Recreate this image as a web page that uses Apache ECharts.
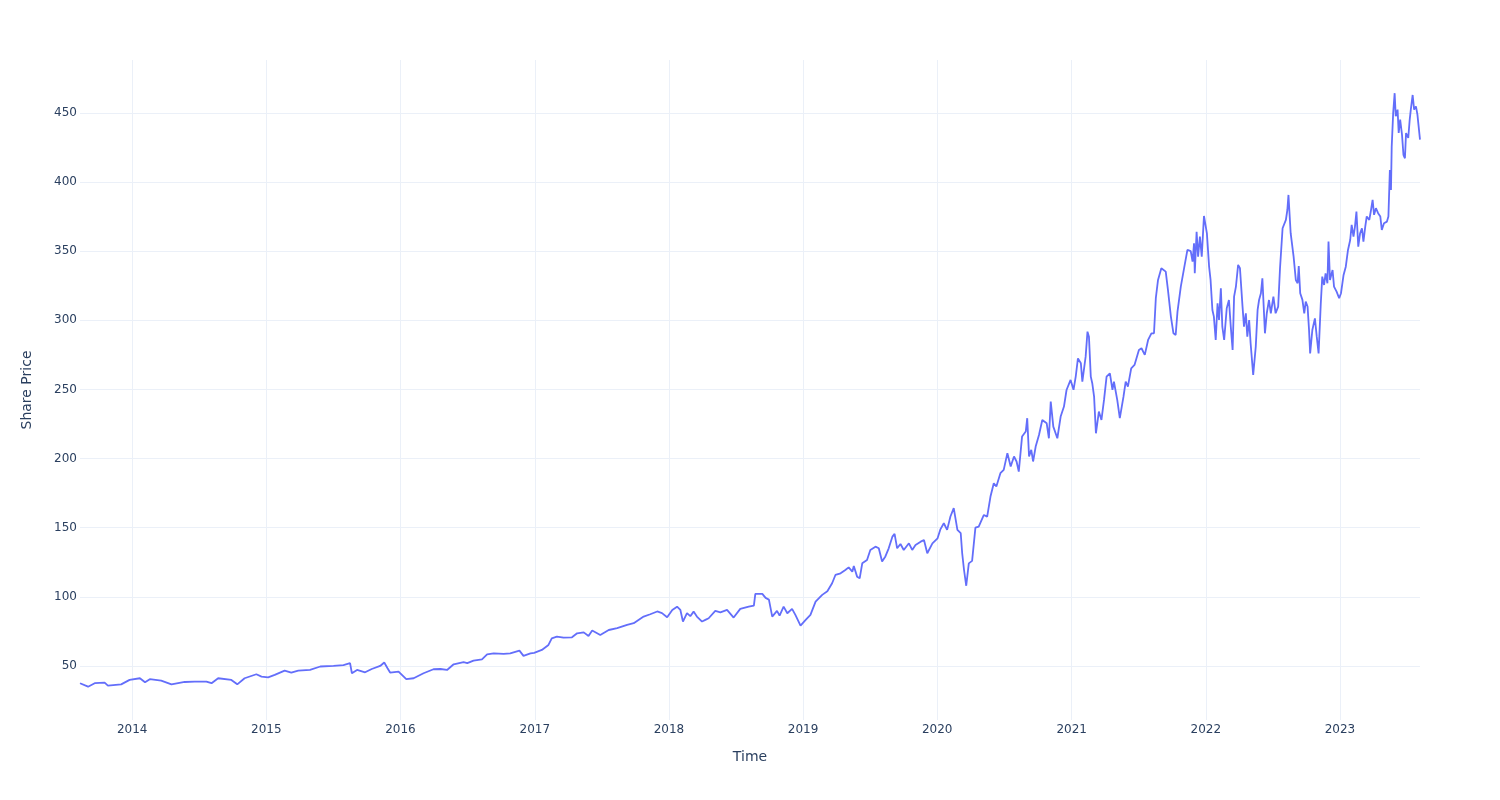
<!DOCTYPE html>
<html><head><meta charset="utf-8">
<script src="https://cdn.jsdelivr.net/npm/echarts@6/dist/echarts.min.js"></script>
<style>html,body{margin:0;padding:0;background:#fff}#c{width:1500px;height:800px}</style>
</head><body><div id="c"></div>
<script>
const dates = [
'2013-08-12','2013-09-03','2013-09-21','2013-10-18','2013-10-27','2013-12-02','2013-12-25',
'2014-01-22','2014-02-05','2014-02-18','2014-03-21','2014-04-18','2014-05-24','2014-06-20','2014-07-22','2014-08-05','2014-08-23','2014-09-28','2014-10-14','2014-11-03','2014-12-05','2014-12-19',
'2015-01-06','2015-01-24','2015-02-20','2015-03-10','2015-03-29','2015-04-30','2015-05-28','2015-07-03','2015-07-30','2015-08-17','2015-08-22','2015-09-05','2015-09-27','2015-10-15','2015-11-07','2015-11-18','2015-11-27','2015-12-04','2015-12-27',
'2016-01-17','2016-02-06','2016-02-10','2016-03-04','2016-03-31','2016-04-19','2016-05-07','2016-05-25','2016-06-21','2016-07-01','2016-07-18','2016-08-10','2016-08-24','2016-09-11','2016-10-08','2016-10-26','2016-11-20','2016-12-01','2016-12-20','2016-12-30',
'2017-01-20','2017-02-07','2017-02-16','2017-03-02','2017-03-20','2017-04-12','2017-04-26','2017-05-14','2017-05-27','2017-06-06','2017-06-28','2017-07-21','2017-08-13','2017-09-09','2017-09-27','2017-10-24','2017-11-11','2017-11-30','2017-12-13','2017-12-27',
'2018-01-10','2018-01-23','2018-02-01','2018-02-08','2018-02-19','2018-02-28','2018-03-09','2018-03-18','2018-04-01','2018-04-10','2018-04-19','2018-05-07','2018-05-21','2018-06-08','2018-06-26','2018-07-14','2018-08-06','2018-08-20','2018-08-24','2018-09-12','2018-09-21','2018-09-30','2018-10-09','2018-10-22','2018-10-29','2018-11-09','2018-11-19','2018-12-02','2018-12-11','2018-12-25',
'2019-01-08','2019-01-21','2019-02-04','2019-02-22','2019-03-08','2019-03-21','2019-03-30','2019-04-13','2019-04-26','2019-05-05','2019-05-15','2019-05-19','2019-05-28','2019-06-04','2019-06-11','2019-06-24','2019-07-03','2019-07-17','2019-07-26','2019-08-04','2019-08-13','2019-08-22','2019-09-01','2019-09-07','2019-09-14','2019-09-23','2019-10-02','2019-10-16','2019-10-25','2019-11-03','2019-11-17','2019-11-26','2019-12-05','2019-12-19',
'2020-01-02','2020-01-10','2020-01-19','2020-01-28','2020-02-06','2020-02-15','2020-02-25','2020-03-05','2020-03-09','2020-03-14','2020-03-20','2020-03-27','2020-04-05','2020-04-14','2020-04-23','2020-05-07','2020-05-16','2020-05-25','2020-06-03','2020-06-10','2020-06-21','2020-06-30','2020-07-10','2020-07-19','2020-07-28','2020-08-04','2020-08-10','2020-08-19','2020-08-29','2020-09-02','2020-09-07','2020-09-13','2020-09-18','2020-09-25','2020-10-04','2020-10-13','2020-10-25','2020-10-31','2020-11-05','2020-11-12','2020-11-23','2020-12-02','2020-12-11','2020-12-18','2020-12-29',
'2021-01-06','2021-01-12','2021-01-18','2021-01-26','2021-01-30','2021-02-08','2021-02-13','2021-02-17','2021-02-22','2021-02-26','2021-03-03','2021-03-08','2021-03-16','2021-03-23','2021-03-30','2021-04-06','2021-04-15','2021-04-22','2021-04-26','2021-05-05','2021-05-12','2021-05-22','2021-05-28','2021-06-03','2021-06-12','2021-06-21','2021-07-03','2021-07-10','2021-07-19','2021-07-28','2021-08-06','2021-08-13','2021-08-18','2021-08-24','2021-09-02','2021-09-14','2021-09-20','2021-09-28','2021-10-05','2021-10-11','2021-10-16','2021-10-25','2021-11-03','2021-11-12','2021-11-21','2021-11-26','2021-11-30','2021-12-02','2021-12-07','2021-12-11','2021-12-16','2021-12-21','2021-12-27',
'2022-01-04','2022-01-10','2022-01-14','2022-01-19','2022-01-23','2022-01-28','2022-02-02','2022-02-06','2022-02-11','2022-02-15','2022-02-20','2022-02-27','2022-03-05','2022-03-10','2022-03-15','2022-03-19','2022-03-24','2022-03-30','2022-04-04','2022-04-11','2022-04-15','2022-04-20','2022-04-24','2022-04-29','2022-05-03','2022-05-10','2022-05-17','2022-05-22','2022-05-26','2022-05-31','2022-06-04','2022-06-11','2022-06-16','2022-06-22','2022-06-27','2022-07-04','2022-07-10','2022-07-17','2022-07-22','2022-07-29','2022-08-07','2022-08-11','2022-08-14','2022-08-20','2022-08-28','2022-09-03','2022-09-08','2022-09-11','2022-09-15','2022-09-21','2022-09-26','2022-09-30','2022-10-05','2022-10-09','2022-10-12','2022-10-18','2022-10-25','2022-10-30','2022-11-04','2022-11-10','2022-11-14','2022-11-19','2022-11-23','2022-11-28','2022-12-01','2022-12-05','2022-12-12','2022-12-16','2022-12-23','2022-12-30',
'2023-01-04','2023-01-11','2023-01-17','2023-01-23','2023-01-29','2023-02-02','2023-02-07','2023-02-11','2023-02-15','2023-02-20','2023-02-25','2023-03-02','2023-03-06','2023-03-11','2023-03-15','2023-03-22','2023-03-26','2023-03-31','2023-04-04','2023-04-09','2023-04-15','2023-04-21','2023-04-25','2023-05-01','2023-05-09','2023-05-13','2023-05-17','2023-05-20','2023-05-22','2023-05-26','2023-05-30','2023-06-02','2023-06-07','2023-06-10','2023-06-14','2023-06-19','2023-06-23','2023-06-27','2023-06-30','2023-07-06','2023-07-10','2023-07-13','2023-07-18','2023-07-22','2023-07-27','2023-07-31','2023-08-05','2023-08-07'
];
const prices = [
37.5,35.0,37.5,37.9,35.8,36.7,39.9,
41.1,38.2,40.4,39.4,36.7,38.4,38.7,38.7,37.5,41.1,39.9,36.7,41.1,44.0,42.3,
41.8,43.5,46.6,45.2,46.6,47.1,49.6,50.0,50.6,52.0,44.7,47.1,45.4,47.8,50.0,52.5,48.3,45.2,45.9,
40.4,41.1,39.9,44.7,47.6,47.8,47.1,51.2,52.7,52.0,53.9,54.8,58.4,59.1,58.7,59.1,61.1,57.3,59.1,59.5,
61.6,65.2,70.0,71.2,70.5,70.7,73.6,74.3,71.7,75.6,72.4,76.0,77.3,79.7,80.9,85.7,87.4,89.4,88.2,85.2,
90.5,92.9,90.5,82.1,88.2,86.0,89.3,85.7,82.1,83.3,84.5,89.8,88.8,90.5,85.0,91.3,92.9,93.7,102.1,102.1,99.2,98.0,85.7,89.8,86.4,92.9,88.1,91.3,86.9,79.2,
83.3,86.9,96.5,101.4,104.0,109.8,115.8,117.0,119.4,121.3,118.2,122.3,114.6,113.4,124.2,126.6,133.9,136.3,135.1,125.5,129.2,135.1,143.5,145.5,135.1,138.2,133.9,138.7,133.9,137.5,139.9,141.1,131.5,138.7,
142.3,149.0,153.2,148.4,158.1,164.1,148.4,146.0,131.5,119.4,108.0,124.2,126.0,150.0,150.8,159.2,158.0,172.5,182.2,179.8,189.4,191.8,203.9,194.2,201.5,197.9,190.6,216.0,219.6,229.2,201.5,206.3,197.9,208.7,217.1,227.9,225.5,214.7,241.2,223.1,214.7,230.4,237.6,249.6,256.9,
249.7,259.3,272.5,268.9,255.7,273.7,291.8,288.2,259.3,254.5,244.8,218.3,234.0,227.9,242.4,259.3,261.7,249.7,255.7,242.4,229.2,244.8,255.7,252.1,265.3,267.7,278.6,279.8,275.0,285.8,290.6,290.6,316.0,329.2,337.7,335.2,322.0,302.7,290.6,289.4,306.3,324.4,337.7,350.9,350.0,342.4,355.7,334.0,364.1,346.0,360.5,346.0,375.5,
362.9,338.8,329.2,307.5,302.7,285.8,312.3,300.2,323.1,295.4,285.8,308.7,314.7,295.4,278.6,317.1,324.4,340.1,337.7,309.9,295.4,305.1,288.2,300.2,283.4,260.5,281.0,307.5,314.7,319.6,330.4,290.6,305.1,314.7,305.1,317.1,305.1,309.9,337.7,366.6,372.6,379.8,390.7,363.0,346.1,329.2,326.8,339.3,319.6,314.8,305.1,313.6,310.0,293.0,276.1,293.0,301.4,288.2,276.1,312.3,331.6,325.6,334.0,326.8,357.0,329.2,336.4,324.4,320.8,316.0,
319.6,332.8,338.8,350.9,358.1,369.0,360.5,367.8,378.7,353.3,363.0,366.6,356.9,367.8,375.1,372.6,378.7,387.1,376.3,381.1,377.5,375.1,365.4,370.2,371.4,375.1,408.8,394.3,425.7,450.0,464.3,447.6,452.4,435.5,445.2,434.3,419.6,417.2,435.5,431.9,445.2,452.4,463.0,452.4,454.8,448.8,447.6,430.7
];
const xTitle = 'Time';
const yTitle = 'Share Price';

const font = '"DejaVu Sans", Verdana, sans-serif';
const textColor = '#2a3f5f';
const gridColor = '#EBF0F8';
const chart = echarts.init(document.getElementById('c'), null, {renderer: 'canvas'});
chart.setOption({
  animation: false,
  backgroundColor: '#fff',
  grid: {left: 80, right: 80, top: 60, bottom: 80, containLabel: false, outerBoundsMode: 'none'},
  xAxis: {
    type: 'time', min: 'dataMin', max: 'dataMax',
    minInterval: 365 * 86400000, maxInterval: 366 * 86400000,
    name: xTitle, nameLocation: 'middle', nameGap: 30,
    nameTextStyle: {color: textColor, fontSize: 14, fontFamily: font},
    axisLine: {show: false}, axisTick: {show: false},
    axisLabel: {color: textColor, fontSize: 12, fontFamily: font, margin: 4, formatter: '{yyyy}', showMinLabel: false, showMaxLabel: false, hideOverlap: false},
    splitLine: {show: true, showMinLine: false, showMaxLine: false, lineStyle: {color: gridColor, width: 1}}
  },
  yAxis: {
    type: 'value', min: 10.9, max: 488.3, splitNumber: 10, scale: true,
    name: yTitle, nameLocation: 'middle', nameGap: 46,
    nameTextStyle: {color: textColor, fontSize: 14, fontFamily: font},
    axisLine: {show: false}, axisTick: {show: false},
    axisLabel: {color: textColor, fontSize: 12, fontFamily: font, margin: 3, padding: [3, 0, 0, 0], showMinLabel: false, showMaxLabel: false},
    splitLine: {show: true, showMinLine: false, showMaxLine: false, lineStyle: {color: gridColor, width: 1}}
  },
  series: [{
    type: 'line', data: dates.map((d, i) => [d, prices[i]]),
    showSymbol: false, symbol: 'none',
    lineStyle: {color: '#636efa', width: 1.8}, itemStyle: {color: '#636efa'}
  }]
});
</script></body></html>
